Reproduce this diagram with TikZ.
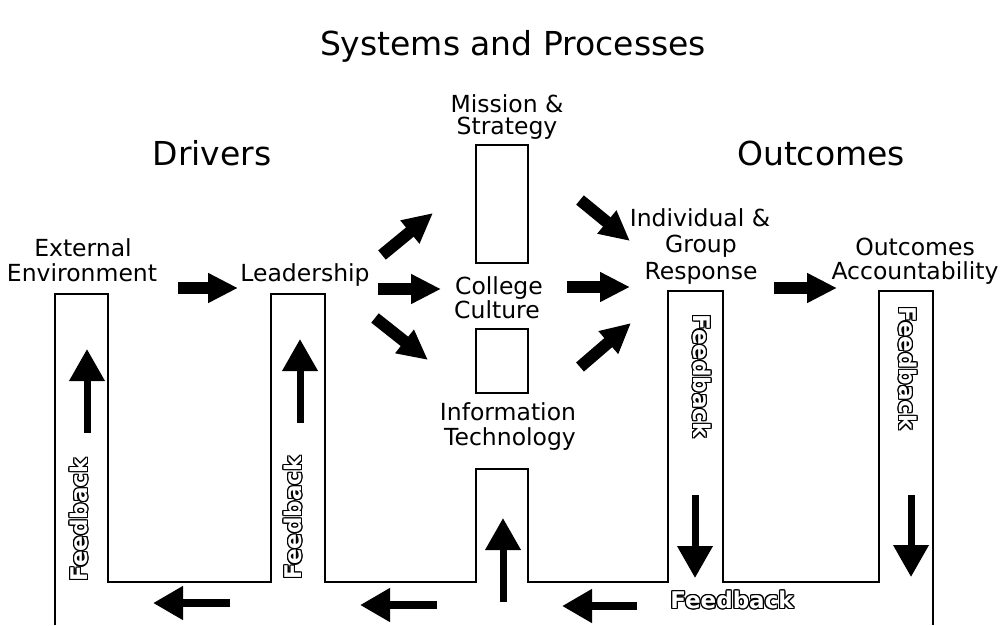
\documentclass[tikz,border=0pt]{standalone}
\usepackage{fontspec}
\setmainfont{DejaVu Sans}
\usetikzlibrary{arrows.meta}
\newcommand\fbout[3]{%
  \foreach \a in {0,30,...,330}{\node[fbfont,text=black,rotate=#3,shift={(\a:1.2pt)}] at (#2) {Feedback};}
  \node[fbfont,text=white,rotate=#3] (#1) at (#2) {Feedback};}
\begin{document}
\begin{tikzpicture}[x=1pt,y=-1pt,
  lab/.style={font=\fontsize{23.5}{26}\selectfont, anchor=base, inner sep=0pt},
  head/.style={font=\fontsize{33}{36}\selectfont, anchor=base, inner sep=0pt},
  fbfont/.style={font=\bfseries\fontsize{23}{26}\selectfont, inner sep=0pt},
  fat/.style={line width=12pt, -{Triangle[length=30pt,width=28pt]}},
  fbarrow/.style={line width=7pt, -{Triangle[length=32pt,width=34pt]}},
  low/.style={line width=8pt, -{Triangle[length=30pt,width=32pt]}},
  wall/.style={line width=1.3pt, line join=miter},
  box/.style={draw, line width=1.3pt, inner sep=0pt}]
\useasboundingbox[fill=white] (0,0) rectangle (1003,625);

% outline of columns
\draw[wall] (55,625) -- (55,294) -- (108,294) -- (108,582) -- (271,582) -- (271,294)
  -- (325,294) -- (325,582) -- (476,582) -- (476,469) -- (528,469) -- (528,582)
  -- (668,582) -- (668,291) -- (723,291) -- (723,582) -- (879,582) -- (879,291)
  -- (933,291) -- (933,625);
\node[box, minimum width=52pt, minimum height=118pt] (misbox) at (502,204) {};
\node[box, minimum width=52pt, minimum height=64pt] (culbox) at (502,361) {};

% texts
\node[head] (title) at (513,55) {Systems and Processes};
\node[head] (drivers) at (212,165) {Drivers};
\node[head] (outcomes) at (821,165) {Outcomes};
\node[lab] (mis1) at (507,112) {Mission \&};
\node[lab] (mis2) at (507,134) {Strategy};
\node[lab] (ext1) at (83,256) {External};
\node[lab] (ext2) at (82,281) {Environment};
\node[lab] (lead) at (305,281) {Leadership};
\node[lab] (col1) at (499,294) {College};
\node[lab] (col2) at (497,318) {Culture};
\node[lab] (inf1) at (508,420) {Information};
\node[lab] (inf2) at (510,445) {Technology};
\node[lab] (ind1) at (700,226) {Individual \&};
\node[lab] (ind2) at (701,252) {Group};
\node[lab] (ind3) at (701,279) {Response};
\node[lab] (out1) at (915,255) {Outcomes};
\node[lab] (out2) at (915,279) {Accountability};

% arrow end points
\coordinate (a1s) at (178,288); \coordinate (a1e) at (238,288);
\coordinate (a2s) at (382,255); \coordinate (a2e) at (433,213);
\coordinate (a3s) at (378,289); \coordinate (a3e) at (441,289);
\coordinate (a4s) at (375,318); \coordinate (a4e) at (428,360);
\coordinate (a5s) at (580,200); \coordinate (a5e) at (630,241);
\coordinate (a6s) at (567,287); \coordinate (a6e) at (630,287);
\coordinate (a7s) at (580,367); \coordinate (a7e) at (631,323);
\coordinate (a8s) at (774,288); \coordinate (a8e) at (837,288);
\coordinate (u1s) at (87,433);  \coordinate (u1e) at (87,349);
\coordinate (u2s) at (300,423); \coordinate (u2e) at (300,339);
\coordinate (u3s) at (503,602); \coordinate (u3e) at (503,518);
\coordinate (d1s) at (695,495); \coordinate (d1e) at (695,578);
\coordinate (d2s) at (911,495); \coordinate (d2e) at (911,577);
\coordinate (l1s) at (230,603); \coordinate (l1e) at (153,603);
\coordinate (l2s) at (437,605); \coordinate (l2e) at (360,605);
\coordinate (l3s) at (637,606); \coordinate (l3e) at (562,606);

\draw[fat] (a1s) -- (a1e);
\draw[fat] (a2s) -- (a2e);
\draw[fat] (a3s) -- (a3e);
\draw[fat] (a4s) -- (a4e);
\draw[fat] (a5s) -- (a5e);
\draw[fat] (a6s) -- (a6e);
\draw[fat] (a7s) -- (a7e);
\draw[fat] (a8s) -- (a8e);
\draw[fbarrow] (u1s) -- (u1e);
\draw[fbarrow] (u2s) -- (u2e);
\draw[fbarrow] (u3s) -- (u3e);
\draw[fbarrow] (d1s) -- (d1e);
\draw[fbarrow] (d2s) -- (d2e);
\draw[low] (l1s) -- (l1e);
\draw[low] (l2s) -- (l2e);
\draw[low] (l3s) -- (l3e);

% feedback labels
\coordinate (f1) at (79,520);
\coordinate (f2) at (293,518);
\coordinate (f3) at (702,376);
\coordinate (f4) at (908,368);
\coordinate (f5) at (732,600);
\fbout{fb1}{f1}{90}
\fbout{fb2}{f2}{90}
\fbout{fb3}{f3}{-90}
\fbout{fb4}{f4}{-90}
\fbout{fb5}{f5}{0}
\end{tikzpicture}
\end{document}
